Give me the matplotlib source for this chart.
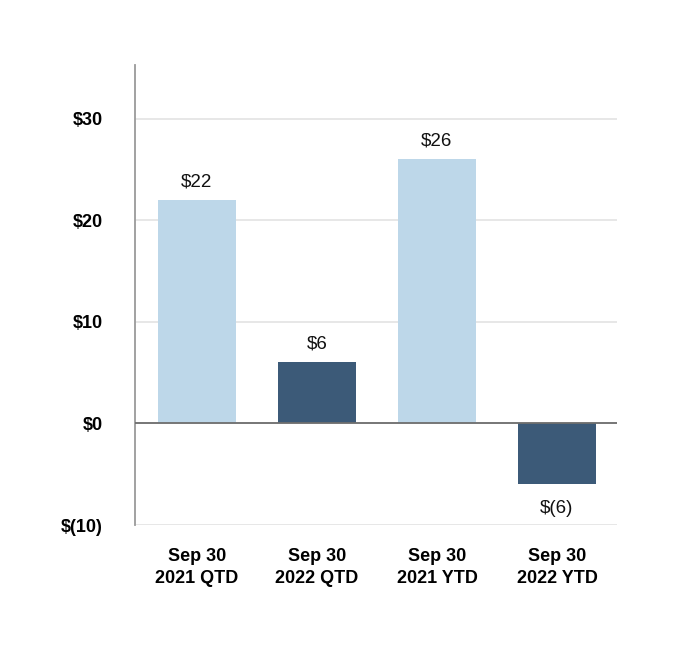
import matplotlib
matplotlib.use("Agg")
import matplotlib.pyplot as plt

categories = ["Sep 30\n2021 QTD", "Sep 30\n2022 QTD", "Sep 30\n2021 YTD", "Sep 30\n2022 YTD"]
values = [22, 6, 26, -6]
value_labels = ["$22", "$6", "$26", "$(6)"]
bar_colors = ["#bdd7e9", "#3c5a78", "#bdd7e9", "#3c5a78"]
y_ticks = [-10, 0, 10, 20, 30]
y_tick_labels = ["$(10)", "$0", "$10", "$20", "$30"]

plt.rcParams["font.family"] = ["Liberation Sans", "DejaVu Sans"]

fig = plt.figure(figsize=(6.8, 6.48), dpi=100)
ax = fig.add_axes([135 / 680, 0.1898, 482 / 680, 0.7102])

x = range(len(categories))
bars = ax.bar(x, values, width=0.65, color=bar_colors, zorder=2)

for bar, val, lab in zip(bars, values, value_labels):
    cx = bar.get_x() + bar.get_width() / 2
    if val >= 0:
        ax.annotate(lab, (cx, val), xytext=(0, 7), textcoords="offset points",
                    ha="center", va="bottom", fontsize=13.5, color="#111111")
    else:
        ax.annotate(lab, (cx, val), xytext=(0, -11), textcoords="offset points",
                    ha="center", va="top", fontsize=13.5, color="#111111")

ax.set_xlim(-0.5 - 2 / 120, 3.5)
ax.set_ylim(-10, 35.3)
ax.set_yticks(y_ticks)
ax.set_yticklabels(y_tick_labels, fontsize=13, fontweight="bold")
ax.set_xticks(list(x))
ax.set_xticklabels(categories, fontsize=13, fontweight="bold", linespacing=1.4)
ax.tick_params(axis="y", length=0, pad=23)
ax.tick_params(axis="x", length=0, pad=16.5)

ax.grid(axis="y", color="#e3e3e3", linewidth=1.2, zorder=0)
ax.axhline(0, color="#6e6e6e", linewidth=1.3, zorder=3)

for side in ["top", "right", "bottom"]:
    ax.spines[side].set_visible(False)
ax.spines["left"].set_color("#9a9a9a")
ax.spines["left"].set_linewidth(1.3)

fig.savefig("out.png", dpi=100)
